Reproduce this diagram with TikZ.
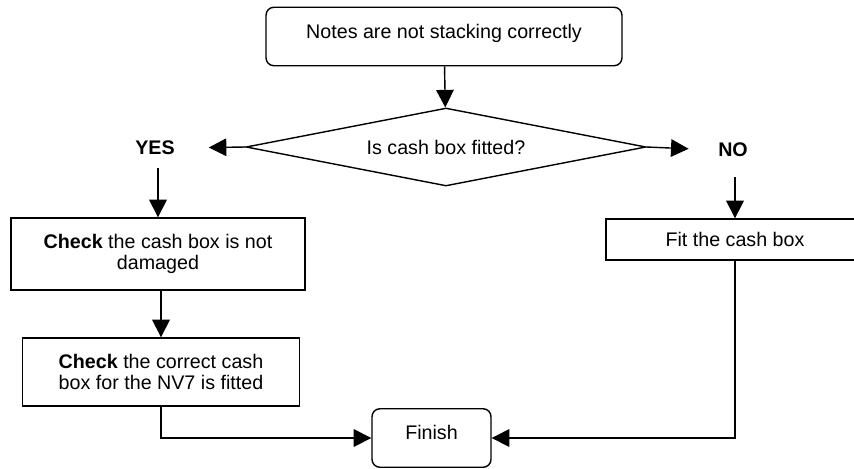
\documentclass[tikz,border=0pt]{standalone}
\usepackage{fontspec}
\setmainfont{Liberation Sans}
\usetikzlibrary{shapes,arrows,arrows.meta,positioning}

\begin{document}
\begin{tikzpicture}[x=0.02cm,y=-0.02cm,line width=0.8pt,
  >={Triangle[length=10pt,width=10pt]},
  every node/.style={font=\fontsize{11.2}{12.4}\selectfont},
  terminal/.style={draw,rounded corners=4.5pt,minimum width=#1,minimum height=1.17cm,
    text height=8.2pt,text depth=6.3pt},
  stepbox/.style 2 args={draw,align=center,minimum width=#1,minimum height=#2,inner sep=0pt},
  answer/.style={font=\fontsize{11.2}{12.4}\selectfont\bfseries,inner sep=0pt}]

\clip[use as bounding box] (0,0) rectangle (854,468);

% start and question
\node[terminal=7.12cm] (start) at (444,36.5) {Notes are not stacking correctly};
\node[draw,diamond,aspect=5.13,minimum width=8cm,minimum height=1.56cm,inner sep=0pt] (ask) at (446,147) {Is cash box fitted?};
\node[answer] (yes) at (155,148) {YES};
\node[answer] (no) at (733,150) {NO};

% yes branch
\node[stepbox={5.88cm}{1.44cm}] (damage) at (158,254) {\textbf{Check} the cash box is not\\damaged};
\node[stepbox={5.54cm}{1.36cm}] (model) at (161,372) {\textbf{Check} the correct cash\\box for the NV7 is fitted};

% no branch
\node[stepbox={5.16cm}{0.82cm}] (fit) at (735,239.5) {Fit the cash box};

\node[terminal=2.38cm] (finish) at (431.5,438) {Finish};

\draw[->] (start) -- (ask);
\draw[->,shorten >=19pt] (ask.west) -- (yes.east);
\draw[->,shorten >=16.5pt] (ask.east) -- (no.west);
\draw[->,shorten <=7pt] (yes.south -| damage.north) -- (damage.north);
\draw[->,shorten <=11pt] (no.south -| fit.north) -- (fit.north);
\draw[->] (damage.south -| model.north) -- (model.north);
\draw[->] (model.south) |- (finish.west);
\draw[->] (fit.south) |- (finish.east);

\end{tikzpicture}
\end{document}
